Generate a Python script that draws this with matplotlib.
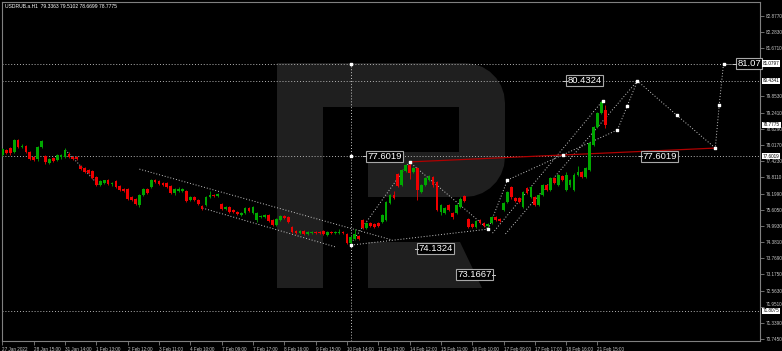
import matplotlib.pyplot as plt
from matplotlib.patches import Polygon
import numpy as np

# H1 candles
opens = [77.65, 77.84, 77.91, 77.76, 78.21, 77.95, 77.99, 77.76, 77.58, 77.50,
         77.95, 77.61, 77.35, 77.54, 77.46, 77.58, 77.58, 77.69, 77.58, 77.58,
         77.24, 77.16, 77.09, 77.05, 76.82, 76.53, 76.60, 76.71, 76.56, 76.67,
         76.49, 76.37, 76.37, 76.07, 76.00, 75.77, 76.15, 76.37, 76.45, 76.71,
         76.67, 76.60, 76.60, 76.49, 76.22, 76.30, 76.30, 76.30, 75.96, 76.07,
         75.96, 75.74, 75.77, 76.07, 76.15, 76.11, 75.81, 75.62, 75.70, 75.59,
         75.51, 75.40, 75.47, 75.66, 75.47, 75.21, 75.32, 75.32, 75.40, 75.21,
         75.02, 75.21, 75.36, 75.32, 74.95, 74.80, 74.72, 74.80, 74.69, 74.72,
         74.76, 74.76, 74.80, 74.65, 74.76, 74.72, 74.72, 74.76, 74.69, 74.35,
         74.50, 74.61, 75.21, 74.91, 75.10, 75.06, 75.10, 75.14, 75.21, 75.85,
         76.15, 76.94, 76.53, 77.05, 77.27, 77.01, 77.16, 76.26, 76.53, 76.71,
         76.82, 76.64, 75.51, 75.47, 75.77, 75.47, 75.47, 75.70, 76.11, 75.25,
         75.06, 74.95, 75.21, 75.10, 74.99, 75.10, 75.32, 75.25, 75.59, 75.89,
         76.45, 76.04, 76.04, 75.70, 76.41, 76.07, 76.07, 75.77, 76.15, 76.53,
         76.34, 76.79, 76.53, 76.86, 76.34, 76.53, 76.34, 76.90, 77.01, 76.82,
         77.09, 78.03, 78.70, 79.23, 79.34]
highs = [77.93, 77.88, 77.95, 78.25, 78.24, 78.05, 78.03, 77.80, 77.63, 77.99,
         78.22, 77.66, 77.54, 77.57, 77.70, 77.68, 77.91, 77.76, 77.62, 77.61,
         77.28, 77.19, 77.12, 77.08, 76.85, 76.70, 76.73, 76.74, 76.63, 76.70,
         76.52, 76.40, 76.41, 76.10, 76.03, 76.19, 76.43, 76.41, 76.75, 76.74,
         76.70, 76.63, 76.63, 76.52, 76.40, 76.45, 76.41, 76.34, 76.11, 76.10,
         76.00, 75.77, 76.11, 76.30, 76.19, 76.23, 75.85, 75.73, 75.73, 75.62,
         75.54, 75.50, 75.70, 75.69, 75.74, 75.51, 75.39, 75.43, 75.43, 75.24,
         75.28, 75.40, 75.39, 75.35, 74.98, 74.83, 74.84, 74.83, 74.79, 74.79,
         74.79, 74.79, 74.83, 74.79, 74.79, 74.79, 74.88, 74.79, 74.72, 74.61,
         74.87, 74.65, 75.25, 75.14, 75.13, 75.09, 75.13, 75.44, 75.93, 76.19,
         76.30, 76.98, 77.13, 77.31, 77.39, 77.20, 77.19, 76.57, 76.83, 76.90,
         76.86, 76.68, 75.81, 75.70, 75.81, 75.51, 75.81, 76.07, 76.15, 75.29,
         75.10, 75.21, 75.25, 75.13, 75.10, 75.36, 75.36, 75.28, 75.89, 76.30,
         76.49, 76.07, 76.08, 76.30, 76.45, 76.49, 76.11, 76.19, 76.57, 76.57,
         76.83, 76.83, 76.94, 76.90, 77.01, 76.75, 76.97, 77.24, 77.05, 77.20,
         78.14, 78.74, 79.27, 79.68, 79.51]
lows = [77.60, 77.69, 77.66, 77.72, 77.90, 77.91, 77.71, 77.45, 77.42, 77.44,
        77.92, 77.33, 77.31, 77.40, 77.42, 77.50, 77.55, 77.54, 77.46, 77.47,
        77.10, 76.98, 76.94, 76.76, 76.48, 76.49, 76.57, 76.53, 76.50, 76.41,
        76.31, 76.27, 75.97, 75.93, 75.77, 75.70, 76.12, 76.19, 76.42, 76.61,
        76.53, 76.50, 76.42, 76.18, 76.15, 76.27, 76.26, 75.88, 75.93, 75.93,
        75.78, 75.59, 75.73, 76.04, 76.07, 76.08, 75.58, 75.58, 75.48, 75.48,
        75.41, 75.37, 75.44, 75.52, 75.44, 75.15, 75.29, 75.29, 75.14, 74.98,
        74.98, 75.18, 75.26, 75.10, 74.72, 74.69, 74.69, 74.66, 74.66, 74.69,
        74.69, 74.69, 74.66, 74.62, 74.69, 74.69, 74.69, 74.69, 74.31, 74.27,
        74.46, 74.46, 74.87, 74.87, 74.95, 74.92, 74.96, 75.10, 75.17, 75.81,
        76.00, 76.45, 76.49, 77.01, 76.75, 76.97, 75.96, 76.22, 76.49, 76.67,
        76.45, 75.55, 75.40, 75.43, 75.55, 75.25, 75.44, 75.66, 75.88, 74.91,
        74.91, 74.91, 75.06, 74.95, 74.87, 75.06, 75.17, 75.13, 75.55, 75.85,
        76.00, 75.88, 75.85, 75.66, 76.18, 76.03, 75.73, 75.73, 76.11, 76.30,
        76.30, 76.56, 76.49, 76.67, 76.30, 76.45, 76.30, 76.86, 76.78, 76.78,
        77.05, 77.99, 78.66, 79.19, 78.67]
closes = [77.88, 77.73, 77.73, 78.21, 77.95, 77.99, 77.76, 77.50, 77.46, 77.95,
          78.18, 77.39, 77.50, 77.43, 77.65, 77.65, 77.84, 77.58, 77.50, 77.50,
          77.13, 77.01, 76.97, 76.79, 76.53, 76.67, 76.71, 76.56, 76.60, 76.45,
          76.34, 76.30, 76.00, 75.96, 75.81, 76.15, 76.37, 76.22, 76.71, 76.64,
          76.56, 76.53, 76.45, 76.22, 76.37, 76.37, 76.37, 75.92, 76.07, 75.96,
          75.81, 75.62, 76.07, 76.15, 76.11, 76.19, 75.62, 75.70, 75.51, 75.51,
          75.44, 75.47, 75.66, 75.55, 75.70, 75.47, 75.36, 75.40, 75.17, 75.02,
          75.25, 75.36, 75.29, 75.14, 74.76, 74.72, 74.80, 74.69, 74.76, 74.76,
          74.72, 74.72, 74.69, 74.76, 74.72, 74.76, 74.76, 74.72, 74.35, 74.57,
          74.69, 74.50, 74.91, 75.10, 74.99, 74.95, 74.99, 75.40, 75.89, 76.15,
          76.04, 76.49, 77.09, 77.27, 76.97, 77.16, 76.34, 76.53, 76.79, 76.86,
          76.53, 75.59, 75.77, 75.66, 75.59, 75.32, 75.77, 76.00, 75.92, 74.95,
          74.95, 75.17, 75.10, 74.99, 75.06, 75.32, 75.21, 75.17, 75.85, 76.26,
          76.07, 75.92, 75.89, 76.26, 76.22, 76.45, 75.77, 76.15, 76.53, 76.34,
          76.79, 76.60, 76.90, 76.71, 76.90, 76.71, 76.90, 77.01, 76.82, 77.16,
          78.10, 78.70, 79.23, 79.64, 78.78]

xlabels = ['27 Jan 2022', '28 Jan 15:00', '31 Jan 14:00', '1 Feb 13:00', '2 Feb 12:00',
           '3 Feb 11:00', '4 Feb 10:00', '7 Feb 09:00', '7 Feb 17:00', '8 Feb 16:00',
           '9 Feb 15:00', '10 Feb 14:00', '11 Feb 13:00', '14 Feb 12:00', '15 Feb 11:00',
           '16 Feb 10:00', '17 Feb 09:00', '17 Feb 17:00', '18 Feb 16:00', '21 Feb 15:00']
yticks = [82.8770, 82.2830, 81.6710, 79.8530, 79.2410, 78.6290, 78.0170, 77.4230,
          76.8110, 76.1990, 75.6050, 74.9930, 74.3810, 73.7690, 73.1750, 72.5630,
          71.9510, 71.3390, 70.7450]
marked_levels = [81.0797, 80.4341, 78.7775, 77.6019, 71.8075]
hlines = [81.0797, 80.4341, 77.6019, 71.8075]

# drawn analysis (bar index, price)
channel_lines = [([35.0, 99.6], [77.12, 74.46]),
                 ([51.1, 85.1], [75.66, 74.20]),
                 ([16.1, 24.8], [77.84, 76.49]),
                 ([89.1, 104.0, 124.1], [74.35, 77.39, 74.87]),
                 ([89.1, 124.1], [74.27, 74.87]),
                 ([124.1, 129.0], [74.87, 76.71]),
                 ([129.0, 157.1], [76.71, 78.59]),
                 ([125.2, 153.3], [74.72, 79.68]),
                 ([128.5, 162.2], [74.69, 80.43]),
                 ([157.1, 159.6, 162.2, 172.2, 182.1, 183.1, 184.2],
                  [78.59, 79.49, 80.43, 79.15, 77.91, 79.53, 81.08]),
                 ([184.2, 187.7], [81.08, 81.08])]
dot_x = [89.0, 89.0, 89.1, 104.0, 124.1, 129.0, 143.3, 153.3, 157.1, 159.6, 162.2, 172.2, 182.1, 183.1, 184.2]
dot_y = [81.08, 77.60, 74.27, 77.39, 74.87, 76.71, 77.65, 79.68, 78.59, 79.49, 80.43, 79.15, 77.91, 79.53, 81.08]
red_x = [104.0, 182.1]
red_y = [77.39, 77.91]
vline_bar = 89.0
box_text = ['77.6019', '74.1324', '73.1667', '80.4324', '77.6019', '81.07']
box_bar = [93.2, 106.3, 124.9, 144.3, 163.5, 187.7]
box_price = [77.6019, 74.1324, 73.1667, 80.4324, 77.6019, 81.0797]
box_align = ['left', 'left', 'right', 'left', 'left', 'left']

fig = plt.figure(figsize=(7.82, 3.51), dpi=100, facecolor='black')
ax = fig.add_axes([2 / 782, 10 / 351, 758 / 782, 339 / 351])
ax.set_facecolor('black')
ax.set_xlim(-0.1, -0.1 + 758 / 3.915)
ax.set_ylim(70.672, 83.39)

# watermark "R" (figure pixels)
def px(pts):
    return [(x / 782, 1 - y / 351) for x, y in pts]

wm = '#1f1f1f'
bowl = [(277, 288), (277, 63), (465, 63)]
for a in np.linspace(90, 0, 8):
    bowl.append((465 + 40 * np.cos(np.radians(a)), 103 - 40 * np.sin(np.radians(a))))
for a in np.linspace(0, -90, 8):
    bowl.append((465 + 40 * np.cos(np.radians(a)), 157 - 40 * np.sin(np.radians(a))))
bowl += [(368, 197), (368, 152), (459, 152), (459, 107), (323, 107), (323, 288)]
ax.add_patch(Polygon(px(bowl), closed=True, fc=wm, ec='none', transform=fig.transFigure, zorder=0.5))
ax.add_patch(Polygon(px([(368, 242), (460, 242), (482, 288), (368, 288)]), closed=True,
                     fc=wm, ec='none', transform=fig.transFigure, zorder=0.5))

dot = (0, (1, 2))
for lv in hlines:
    ax.axhline(lv, color='#b4b4b4', lw=0.7, ls=dot, zorder=1)
ax.vlines(vline_bar, 70.672, 81.0797, color='#c8c8c8', lw=0.7, ls=dot, zorder=1)
for xs, ys in channel_lines:
    ax.plot(xs, ys, color='#c8c8c8', lw=0.7, ls=dot, zorder=2)
ax.plot(red_x, red_y, color='#b00000', lw=0.9, zorder=2)

# candles
x = np.arange(len(closes))
o = np.array(opens)
c = np.array(closes)
col = np.where(c >= o, '#00a800', '#f00000')
ax.vlines(x, lows, highs, colors=col, lw=0.6, zorder=3)
body = np.maximum(np.abs(c - o), 0.02)
ax.bar(x, body, bottom=np.minimum(o, c), width=0.7, color=col, lw=0, zorder=4)

ax.scatter(dot_x, dot_y, s=4, marker='s', color='white', zorder=5)

for t, bx, by, ha in zip(box_text, box_bar, box_price, box_align):
    ax.text(bx, by, t, color='white', fontsize=6.8, family='Liberation Sans', ha=ha, va='center',
            bbox=dict(boxstyle='square,pad=0.12', fc='black', ec='#a8a8a8', lw=0.8), zorder=6)
    dx = -1.0 if ha == 'left' else 1.0
    ax.plot([bx + dx, bx + dx * 0.2], [by, by], color='#c8c8c8', lw=0.7, zorder=6)

# axes styling
for s in ax.spines.values():
    s.set_color('#808080')
    s.set_linewidth(0.8)
ax.yaxis.tick_right()
ax.set_yticks(yticks)
ax.set_yticklabels([f'{v:.4f}' for v in yticks])
ax.set_xticks(np.arange(len(xlabels)) * 8)
ax.set_xticklabels(xlabels, ha='left')
ax.tick_params(colors='#808080', labelcolor='#c8c8c8', labelsize=3.3, length=3, width=0.6, pad=1)
for lb in ax.get_xticklabels() + ax.get_yticklabels():
    lb.set_family('Liberation Sans')
    if lb.get_text() == '71.9510':
        lb.set_va('bottom')

ytr = ax.get_yaxis_transform()
for lv in marked_levels:
    ax.text(1.004, lv, f'{lv:.4f}', transform=ytr, color='black', fontsize=3.3, family='Liberation Sans',
            ha='left', va='center', bbox=dict(boxstyle='square,pad=0.15', fc='white', ec='none'),
            clip_on=False, zorder=7)

fig.text(5 / 782, 1 - 7 / 351, 'USDRUB.a.H1  79.3363 79.5102 78.6699 78.7775', color='white',
         fontsize=3.6, family='Liberation Sans', ha='left', va='center')

fig.savefig('out.png', dpi=100, facecolor='black')
